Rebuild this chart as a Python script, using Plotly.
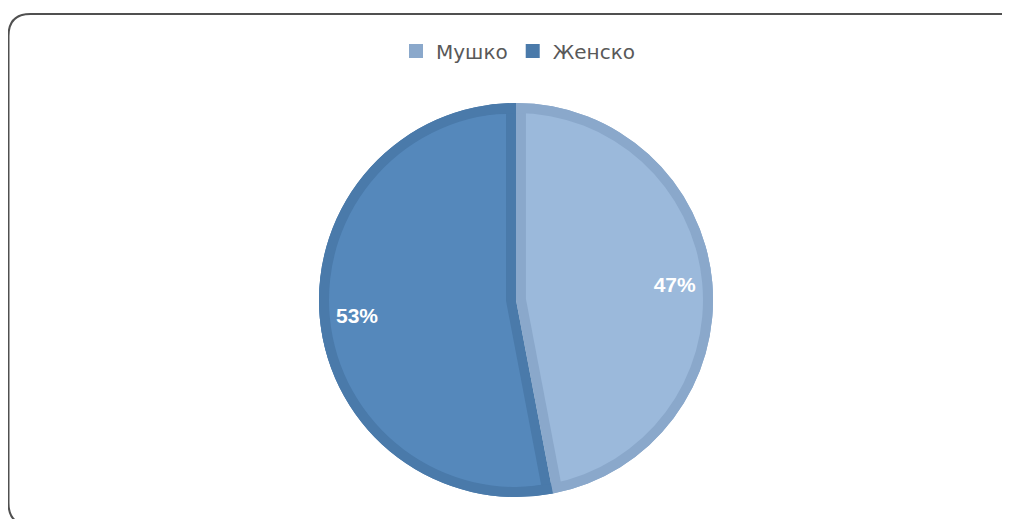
import plotly.graph_objects as go

# ---- data ----
labels = ["Мушко", "Женско"]
values = [47, 53]
fill_colors = ["#9BB9DB", "#5588BB"]
border_colors = ["#8AA8CB", "#4A7AAA"]

# ---- layout geometry (figure pixels; page adds an 8px body margin) ----
W, H = 1010, 519
cx, cy, R = 508, 292, 197
band = 10

dom = dict(
    x=[(cx - R) / W, (cx + R) / W],
    y=[(H - cy - R) / H, (H - cy + R) / H],
)

common = dict(
    labels=labels,
    values=values,
    sort=False,
    direction="clockwise",
    rotation=0,
    domain=dom,
    hoverinfo="skip",
    showlegend=False,
)

fig = go.Figure()

# bottom: full disc in border colours
fig.add_trace(go.Pie(
    **common,
    marker=dict(colors=border_colors, line=dict(width=0)),
    textinfo="none",
))

# middle: slice fills, separated so the border colour shows along the radial edges
fig.add_trace(go.Pie(
    **common,
    pull=[band / (R - band)] * len(values),
    marker=dict(colors=fill_colors, line=dict(width=0)),
    textinfo="none",
))

# top: outer ring in border colours
fig.add_trace(go.Pie(
    **common,
    hole=(R - band) / R,
    marker=dict(colors=border_colors, line=dict(width=0)),
    textinfo="none",
))

# transparent donut carrying the percentage labels further out
fig.add_trace(go.Pie(
    **common,
    hole=0.62,
    marker=dict(colors=["rgba(0,0,0,0)"] * len(values), line=dict(width=0)),
    texttemplate="%{percent:.0%}",
    textposition="inside",
    insidetextorientation="horizontal",
    textfont=dict(family="Liberation Sans, Arial, sans-serif", size=21, color="white", weight="bold"),
))

# legend entries (square markers)
for lab, col in zip(labels, border_colors):
    fig.add_trace(go.Scatter(
        x=[None], y=[None], mode="markers", name=lab,
        marker=dict(symbol="square", size=14, color=col),
        showlegend=True, hoverinfo="skip",
    ))

# rounded chart frame
x0, y0, x1, y1, r = 0.5, 6, 1014, 517, 22
def px(x):
    return x / W
def py(y):
    return 1 - y / H
path = (
    f"M {px(x0)} {py(y0 + r)} "
    f"Q {px(x0)} {py(y0)} {px(x0 + r)} {py(y0)} "
    f"L {px(x1 - r)} {py(y0)} "
    f"Q {px(x1)} {py(y0)} {px(x1)} {py(y0 + r)} "
    f"L {px(x1)} {py(y1 - r)} "
    f"Q {px(x1)} {py(y1)} {px(x1 - r)} {py(y1)} "
    f"L {px(x0 + r)} {py(y1)} "
    f"Q {px(x0)} {py(y1)} {px(x0)} {py(y1 - r)} Z"
)

fig.update_layout(
    width=W,
    height=H,
    margin=dict(l=0, r=0, t=0, b=0),
    paper_bgcolor="white",
    plot_bgcolor="white",
    xaxis=dict(visible=False),
    yaxis=dict(visible=False),
    legend=dict(
        orientation="h",
        x=510 / W,
        xanchor="center",
        y=1 - 43 / H,
        yanchor="middle",
        font=dict(family="DejaVu Sans, sans-serif", size=20, color="#595959"),
        itemsizing="trace",
        itemwidth=30,
        itemclick=False,
        itemdoubleclick=False,
    ),
    shapes=[dict(
        type="path",
        path=path,
        xref="paper",
        yref="paper",
        line=dict(color="#505050", width=2),
        fillcolor="rgba(0,0,0,0)",
        layer="above",
    )],
)

fig.write_html("out.html")
